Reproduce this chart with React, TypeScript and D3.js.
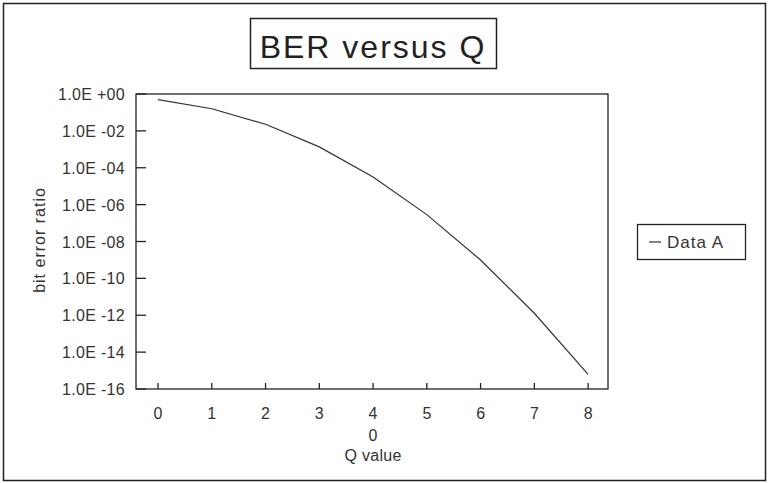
import React from "react";
import * as d3 from "d3";

const qValues = [0, 1, 2, 3, 4, 5, 6, 7, 8];
const berValues = [0.5, 0.159, 0.0228, 1.35e-3, 3.17e-5, 2.87e-7, 9.87e-10, 1.28e-12, 6.2e-16];
const yTickValues = [1, 1e-2, 1e-4, 1e-6, 1e-8, 1e-10, 1e-12, 1e-14, 1e-16];
const yTickLabels = ["1.0E +00", "1.0E -02", "1.0E -04", "1.0E -06", "1.0E -08", "1.0E -10", "1.0E -12", "1.0E -14", "1.0E -16"];
const xTickLabels = ["0", "1", "2", "3", "4", "5", "6", "7", "8"];
const title = "BER versus Q";
const xTitle = "Q value";
const xSubLabel = "0";
const yTitle = "bit error ratio";
const seriesName = "Data A";

const W = 768;
const H = 483;
const plot = { left: 136, top: 94, right: 608, bottom: 389 };
const font = "'Liberation Sans', Arial, sans-serif";
const ink = "#222";

export default function App() {
  const x = d3.scaleLinear().domain([-0.41, 8.37]).range([plot.left, plot.right]);
  const y = d3.scaleLog().domain([1e-16, 1]).range([plot.bottom, plot.top]);
  const line = d3
    .line<number>()
    .x((_, i) => x(qValues[i]))
    .y((d) => y(d));

  return (
    <svg
      width={W}
      height={H}
      style={{ position: "absolute", left: 0, top: 0, background: "#fff" }}
      fontFamily={font}
    >
      <rect x={3.5} y={3.5} width={762} height={477} fill="#fff" stroke={ink} strokeWidth={1.5} />
      {/* title */}
      <rect x={250.5} y={18.5} width={246} height={50} fill="none" stroke={ink} strokeWidth={1.5} />
      <text x={373} y={58} textAnchor="middle" fontSize={32} letterSpacing={2} fill={ink}>
        {title}
      </text>
      {/* plot frame */}
      <rect
        x={plot.left}
        y={plot.top}
        width={plot.right - plot.left}
        height={plot.bottom - plot.top}
        fill="none"
        stroke={ink}
        strokeWidth={1.3}
      />
      {yTickValues.map((v, i) => (
        <g key={"y" + i}>
          <line x1={plot.left} x2={plot.left + 10} y1={y(v)} y2={y(v)} stroke={ink} strokeWidth={1.3} />
          <text x={125} y={y(v) + 6} textAnchor="end" fontSize={16} letterSpacing={0.3} fill="#333">
            {yTickLabels[i]}
          </text>
        </g>
      ))}
      {qValues.map((q, i) => (
        <g key={"x" + i}>
          <line x1={x(q)} x2={x(q)} y1={plot.bottom} y2={plot.bottom - 6} stroke={ink} strokeWidth={1.3} />
          <text x={x(q)} y={419} textAnchor="middle" fontSize={16} fill="#333">
            {xTickLabels[i]}
          </text>
        </g>
      ))}
      <text x={x(4)} y={441} textAnchor="middle" fontSize={16} fill="#333">
        {xSubLabel}
      </text>
      <text x={x(4)} y={461} textAnchor="middle" fontSize={16} letterSpacing={0.3} fill="#333">
        {xTitle}
      </text>
      <text
        transform={`translate(45, 240) rotate(-90)`}
        textAnchor="middle"
        fontSize={16}
        letterSpacing={1}
        fill="#333"
      >
        {yTitle}
      </text>
      <path d={line(berValues) || ""} fill="none" stroke="#333" strokeWidth={1.2} />
      {/* legend */}
      <rect x={637.5} y={224.5} width={108} height={35} fill="#fff" stroke={ink} strokeWidth={1.3} />
      <line x1={649} x2={661} y1={242} y2={242} stroke="#333" strokeWidth={1.2} />
      <text x={667} y={248} fontSize={17} letterSpacing={1} fill="#333">
        {seriesName}
      </text>
    </svg>
  );
}
